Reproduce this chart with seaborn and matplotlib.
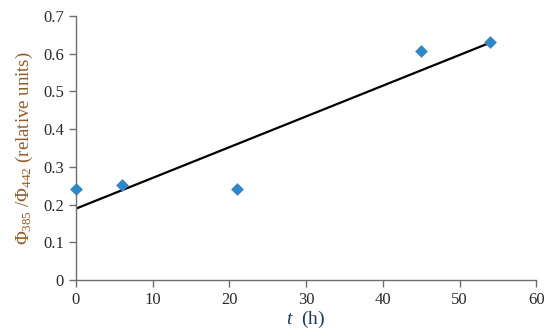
import numpy as np
import pandas as pd
import matplotlib
matplotlib.use("Agg")
import matplotlib.pyplot as plt
import seaborn as sns

# data
t_hours = [0, 6, 21, 45, 54]
ratio = [0.241, 0.252, 0.241, 0.607, 0.632]
x_ticks = [0, 10, 20, 30, 40, 50, 60]
y_ticks = [0, 0.1, 0.2, 0.3, 0.4, 0.5, 0.6, 0.7]

df = pd.DataFrame({"t": t_hours, "ratio": ratio})

sns.set_style("white")
plt.rcParams['font.family'] = ['Liberation Serif', 'DejaVu Serif']
plt.rcParams['mathtext.fontset'] = 'custom'
plt.rcParams['mathtext.rm'] = 'Liberation Serif'
plt.rcParams['mathtext.it'] = 'Liberation Serif:italic'

fig = plt.figure(figsize=(5.5, 3.36), dpi=100)
ax = fig.add_axes([0.138, 0.167, 0.837, 0.785])

# linear trend line (least squares) over the data range
sns.regplot(data=df, x="t", y="ratio", ax=ax, ci=None, truncate=True,
            scatter=False, line_kws={"color": "black", "lw": 1.6})
sns.scatterplot(data=df, x="t", y="ratio", ax=ax, marker="D", s=36,
                color="#2D87C8", edgecolor="#2D87C8", zorder=3, clip_on=False)

ax.set_xlim(0, 60)
ax.set_ylim(0, 0.7)
ax.set_xticks(x_ticks)
ax.set_yticks(y_ticks)
ax.set_xticklabels([str(v) for v in x_ticks])
ax.set_yticklabels(["0"] + ["%.1f" % v for v in y_ticks[1:]])

for s in ["top", "right"]:
    ax.spines[s].set_visible(False)
for s in ["left", "bottom"]:
    ax.spines[s].set_color("#6E6E6E")
    ax.spines[s].set_linewidth(1.0)
ax.tick_params(axis="both", direction="out", length=5, width=1.0,
               color="#6E6E6E", labelsize=12, labelcolor="#2A2A2A",
               bottom=True, left=True)

ax.set_xlabel(r"$\it{t}$  (h)", fontsize=14, color="#1F3A5F", labelpad=1)
ax.set_ylabel(r"$\Phi_{385}$ /$\Phi_{442}$ (relative units)", fontsize=13.5,
              color="#955A23", labelpad=6)

fig.savefig("out.png", dpi=100)
